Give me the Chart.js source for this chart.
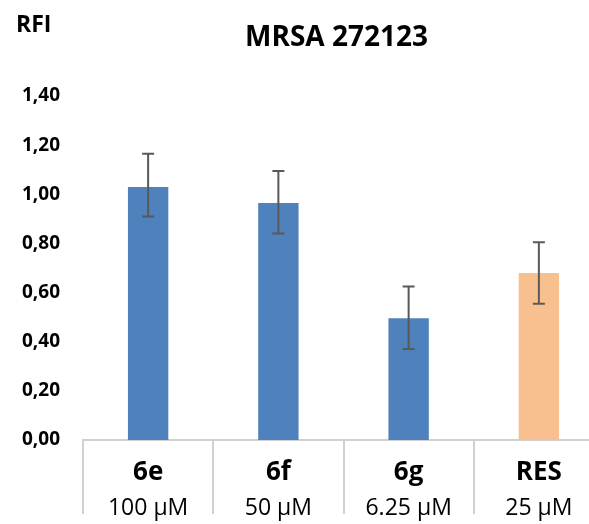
<!DOCTYPE html>
<html>
<head>
<meta charset="utf-8">
<script src="https://cdn.jsdelivr.net/npm/chart.js@4"></script>
<style>
  body { margin: 0; overflow: hidden; background: #fff; }
  #wrap { width: 606px; height: 524px; }
</style>
</head>
<body>
<div id="wrap"><canvas id="chart" width="606" height="524"></canvas></div>
<script>
const compounds = ["6e", "6f", "6g", "RES"];
const concentrations = ["100 µM", "50 µM", "6.25 µM", "25 µM"];
const rfi = [1.03, 0.965, 0.495, 0.68];
const errLow = [0.91, 0.84, 0.37, 0.555];
const errHigh = [1.165, 1.095, 0.625, 0.805];
const barColors = ["#4F81BD", "#4F81BD", "#4F81BD", "#F9C08F"];

const FONT = "'Open Sans', Lato, sans-serif";
const chartTitle = "MRSA 272123";

// error bars, title over the plot area and the "RFI" label
const extras = {
  id: "extras",
  afterDatasetsDraw(chart) {
    const ctx = chart.ctx;
    const y = chart.scales.y;
    const area = chart.chartArea;
    const meta = chart.getDatasetMeta(0);
    ctx.save();
    ctx.strokeStyle = "#595959";
    ctx.lineWidth = 2;
    meta.data.forEach((bar, i) => {
      const top = y.getPixelForValue(errHigh[i]);
      const bot = y.getPixelForValue(errLow[i]);
      ctx.beginPath();
      ctx.moveTo(bar.x, top);
      ctx.lineTo(bar.x, bot);
      ctx.moveTo(bar.x - 6, top);
      ctx.lineTo(bar.x + 6, top);
      ctx.moveTo(bar.x - 6, bot);
      ctx.lineTo(bar.x + 6, bot);
      ctx.stroke();
    });
    ctx.fillStyle = "#000";
    ctx.textBaseline = "alphabetic";
    ctx.font = "bold 23px " + FONT;
    ctx.textAlign = "left";
    ctx.fillText("RFI", 16, 32);
    ctx.font = "bold 28px " + FONT;
    ctx.textAlign = "center";
    ctx.fillText(chartTitle, (area.left + area.right) / 2 - 7, 46);
    ctx.restore();
  }
};

new Chart(document.getElementById("chart"), {
  type: "bar",
  data: {
    labels: compounds,
    datasets: [{
      data: rfi,
      backgroundColor: barColors,
      barPercentage: 0.31,
      categoryPercentage: 1
    }]
  },
  options: {
    responsive: false,
    animation: false,
    layout: { padding: { left: 0, right: 2, top: 96, bottom: 0 } },
    plugins: {
      legend: { display: false },
      tooltip: { enabled: false },
      title: { display: false }
    },
    scales: {
      y: {
        min: 0,
        max: 1.4,
        ticks: {
          stepSize: 0.2,
          color: "#000",
          padding: 23,
          font: { family: FONT, size: 19, weight: "bold" },
          callback: v => v.toFixed(2).replace(".", ",")
        },
        grid: { display: false, drawTicks: false },
        border: { display: false },
        afterFit: s => { s.width = 83; }
      },
      x: {
        offset: true,
        ticks: {
          color: "#000",
          padding: -33,
          font: { family: FONT, size: 26, weight: "bold" }
        },
        grid: {
          offset: true,
          drawOnChartArea: false,
          tickLength: 50,
          color: "#D0D0D0",
          lineWidth: 2
        },
        border: { display: true, color: "#D0D0D0", width: 2 },
        afterFit: s => { s.height = 50; }
      },
      x2: {
        type: "category",
        position: "bottom",
        labels: concentrations,
        offset: true,
        ticks: {
          color: "#000",
          padding: -19,
          font: { family: FONT, size: 23 }
        },
        grid: {
          offset: true,
          drawOnChartArea: false,
          tickLength: 24,
          color: "#D0D0D0",
          lineWidth: 2
        },
        border: { display: false },
        afterFit: s => { s.height = 34; }
      }
    }
  },
  plugins: [extras]
});
</script>
</body>
</html>
